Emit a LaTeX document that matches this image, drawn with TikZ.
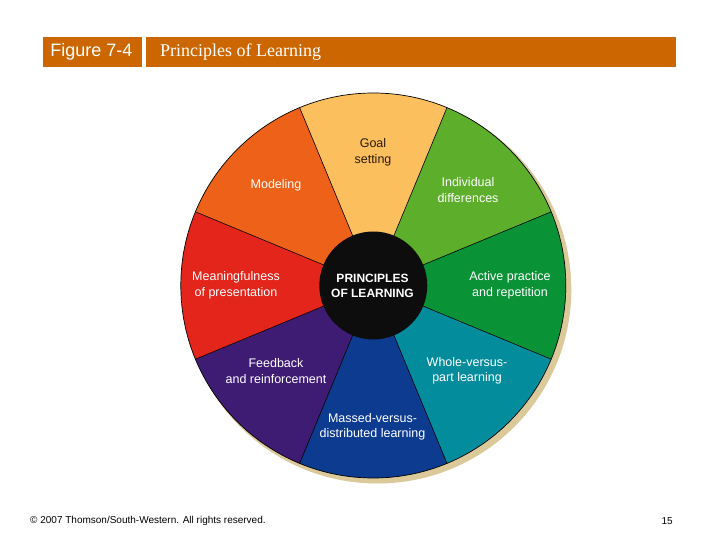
\documentclass[tikz,border=0pt]{standalone}
\usepackage{fontspec}
\setmainfont{Liberation Serif}
\newfontfamily\hv{Liberation Sans}
\definecolor{hdr}{HTML}{CC6600}
\definecolor{shadowc}{HTML}{DCC99A}
\definecolor{cgoal}{HTML}{FBBF5E}
\definecolor{cmod}{HTML}{EE6118}
\definecolor{cmean}{HTML}{E3251B}
\definecolor{cfeed}{HTML}{3F1C73}
\definecolor{cmass}{HTML}{0D3B8F}
\definecolor{cwhole}{HTML}{038C9C}
\definecolor{cact}{HTML}{0A9237}
\definecolor{cind}{HTML}{5DAE2B}
\definecolor{goaltext}{HTML}{2A1A0A}
\begin{document}
\begin{tikzpicture}[x=1pt,y=-1pt,
  seglabel/.style={font=\hv\fontsize{12.5}{15.5}\selectfont, text=white, align=center, inner sep=0pt},
  hdrbox/.style={fill=hdr},
  footer/.style={font=\hv\fontsize{10}{12}\selectfont, text=black, inner sep=0pt}]
\useasboundingbox (0,0) rectangle (720,540);
\fill[white] (0,0) rectangle (720,540);
% header
\fill[hdrbox] (43,37) rectangle (142,67);
\fill[hdrbox] (146,37) rectangle (676,67);
\node[font=\hv\fontsize{18}{20}\selectfont, text=white, anchor=center, inner sep=0pt] (fig) at (91.5,52) {Figure 7-4};
\node[font=\fontsize{18}{20}\selectfont, text=white, anchor=west, inner sep=0pt] (title) at (160,52.5) {Principles of Learning};
% wheel
\begin{scope}[shift={(373.3,285.5)}, y=1pt]
  \fill[shadowc] (4,-4) circle[radius=194];
  \foreach \a/\c in {90/cgoal, 45/cind, 0/cact, -45/cwhole, -90/cmass, -135/cfeed, 180/cmean, 135/cmod}{
    \pgfmathsetmacro\s{\a-22.5}
    \pgfmathsetmacro\e{\a+22.5}
    \fill[\c] (0,0) -- (\s:192.5) arc[start angle=\s, end angle=\e, radius=192.5] -- cycle;
  }
  \foreach \a in {22.5,67.5,...,337.5}
    \draw[black, line width=0.6pt] (0,0) -- (\a:192.5);
  \draw[black, line width=0.7pt] (0,0) circle[radius=192.5];
  \fill[black!95] (0,0) circle[radius=54];
\end{scope}
% labels
\node[seglabel, text=goaltext] (goal) at (373,152.5) {Goal\\setting};
\node[seglabel] (mod) at (276,185) {Modeling};
\node[seglabel] (ind) at (468,190) {Individual\\differences};
\node[seglabel] (mean) at (236,285.5) {Meaningfulness\\of presentation};
\node[seglabel, font=\hv\bfseries\fontsize{12}{15}\selectfont] (center) at (372.5,285.5) {PRINCIPLES\\OF LEARNING};
\node[seglabel] (act) at (510,285.5) {Active practice\\and repetition};
\node[seglabel] (feed) at (276,371) {Feedback\\and reinforcement};
\node[seglabel] (whole) at (467,371) {Whole-versus-\\part learning};
\node[seglabel] (mass) at (372.5,427) {Massed-versus-\\distributed learning};
% footer
\node[footer, anchor=west] (copy) at (30,521) {\textcopyright{} 2007 Thomson/South-Western. All rights reserved.};
\node[footer, anchor=east] (page) at (673,521) {15};
\end{tikzpicture}
\end{document}
